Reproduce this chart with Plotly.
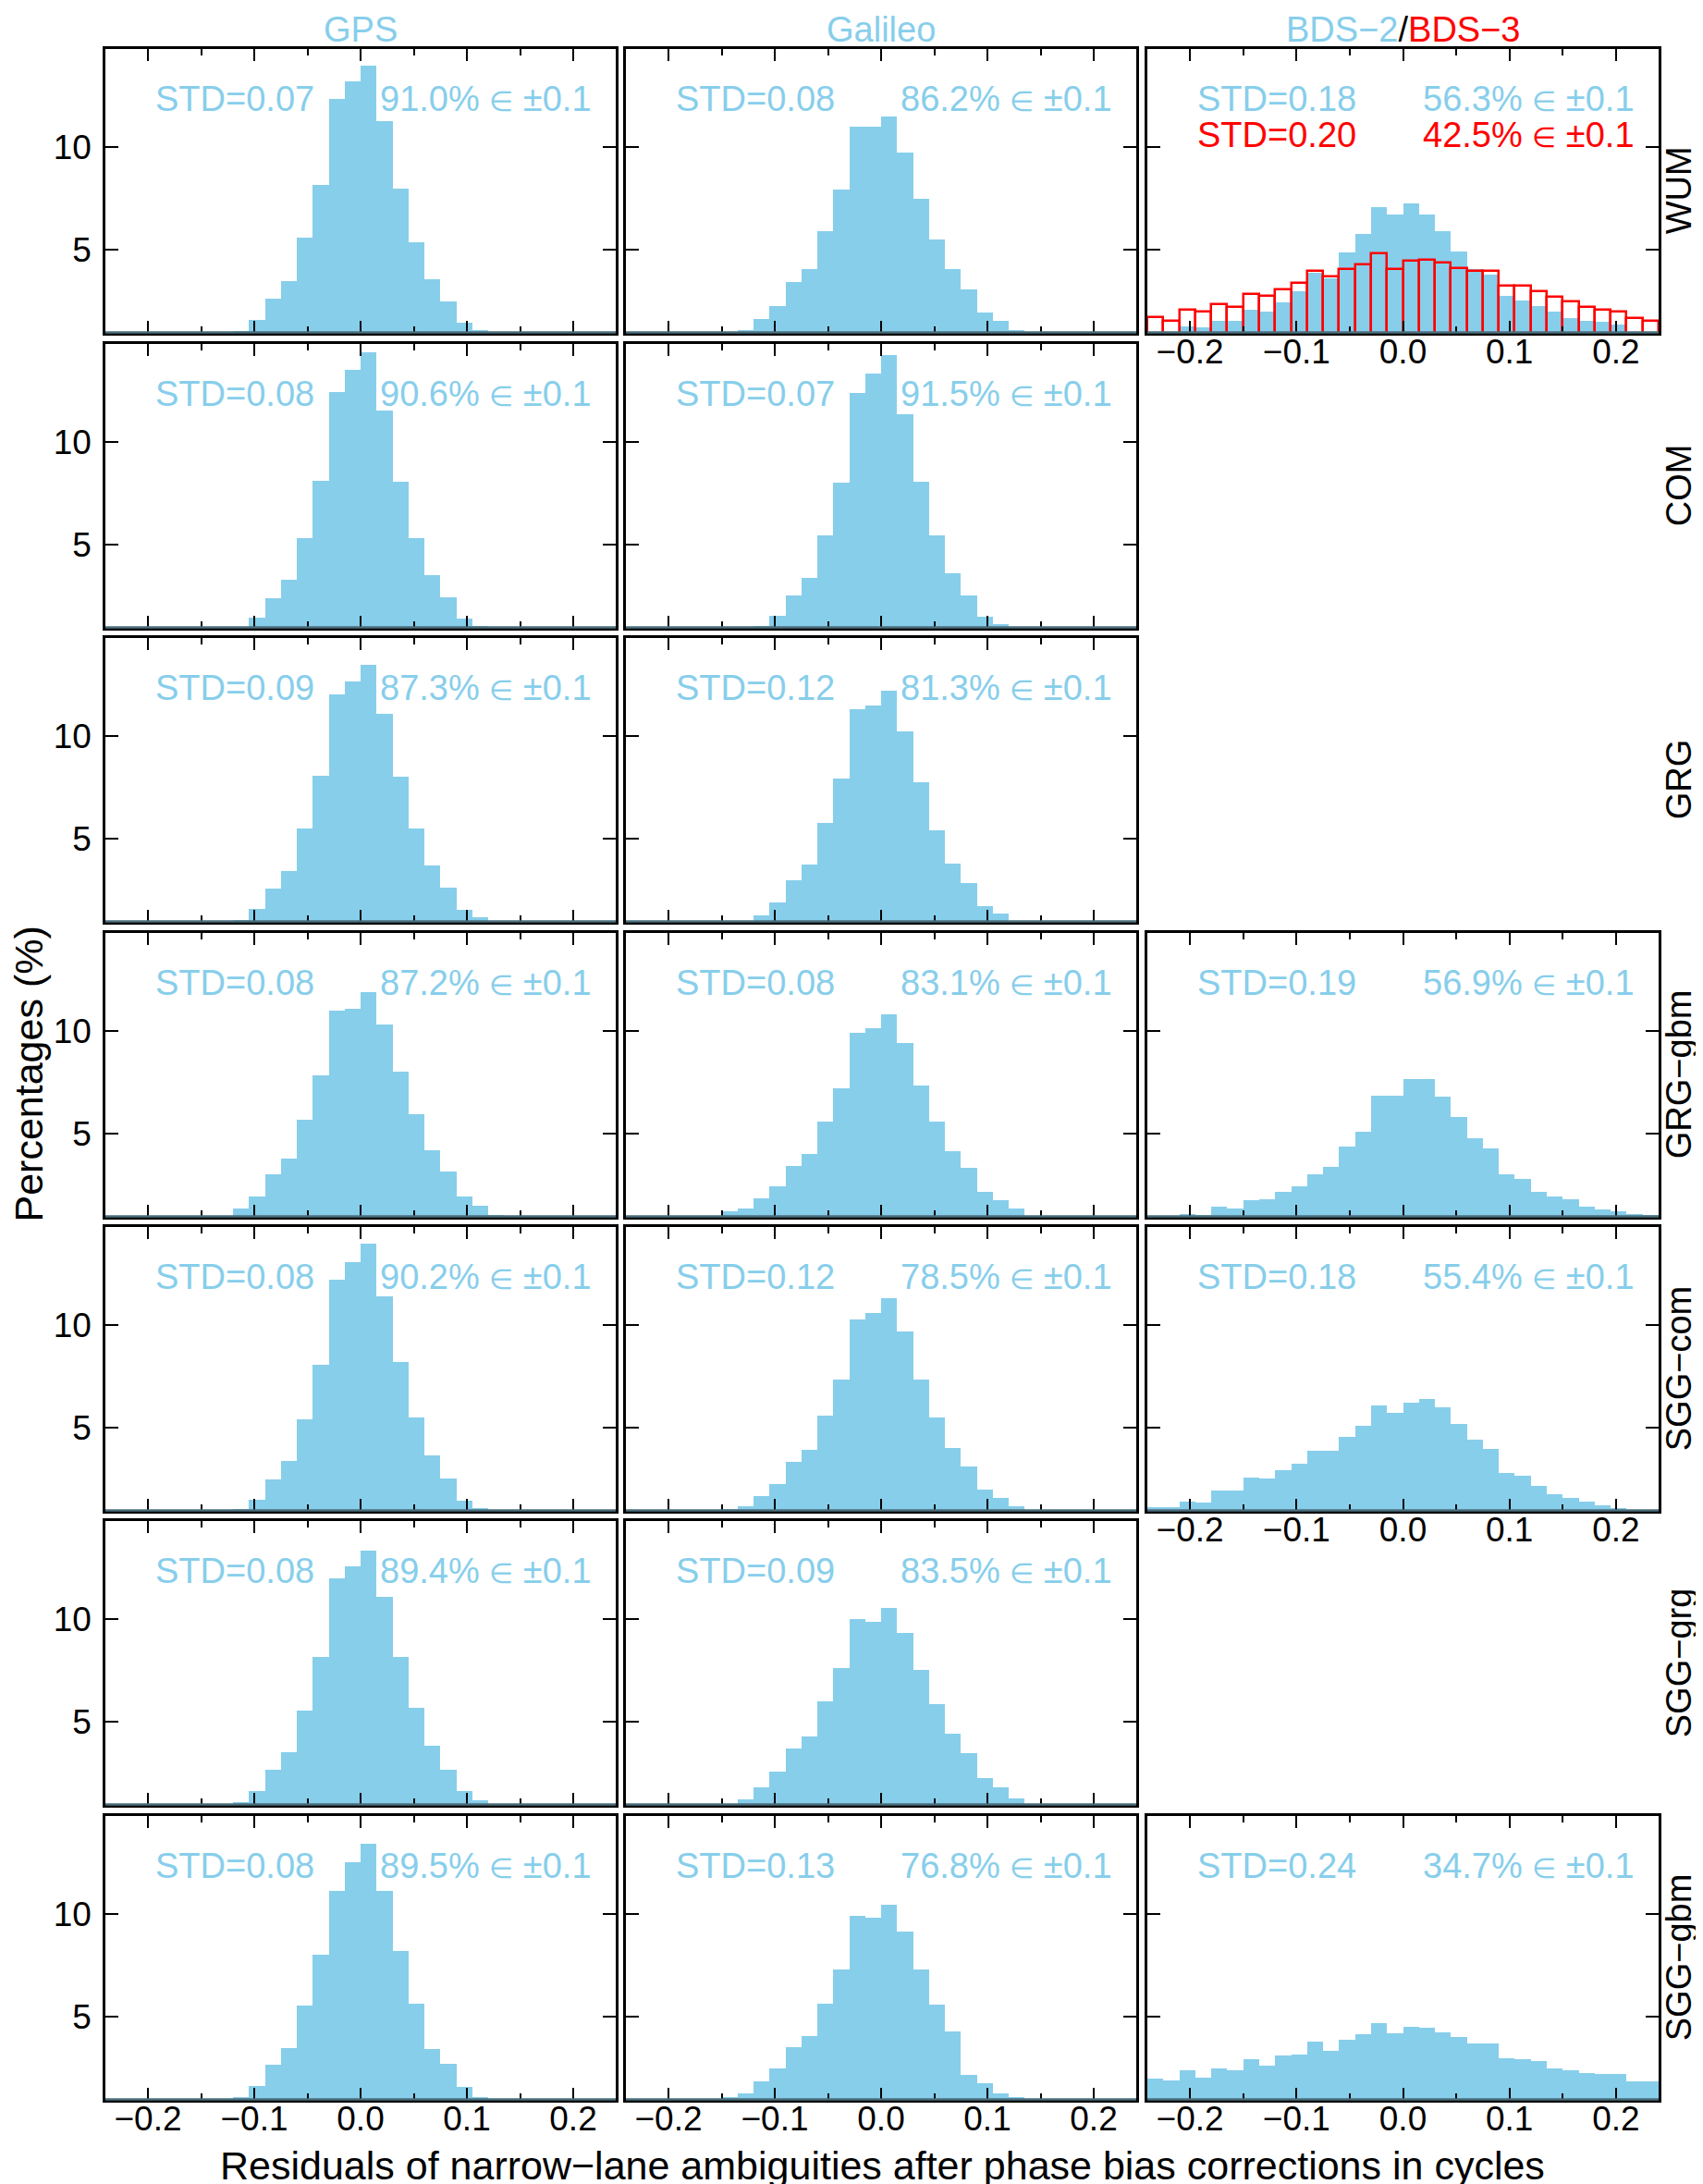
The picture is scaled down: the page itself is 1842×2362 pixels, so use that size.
import plotly.graph_objects as go

# ---------------- data ----------------
BIN_CENTERS = [-0.2325, -0.2175, -0.2025, -0.1875, -0.1725, -0.1575, -0.1425, -0.1275,
               -0.1125, -0.0975, -0.0825, -0.0675, -0.0525, -0.0375, -0.0225, -0.0075,
               0.0075, 0.0225, 0.0375, 0.0525, 0.0675, 0.0825, 0.0975, 0.1125,
               0.1275, 0.1425, 0.1575, 0.1725, 0.1875, 0.2025, 0.2175, 0.2325]

COLUMNS = ["GPS", "Galileo", "BDS"]
ROWS = ["WUM", "COM", "GRG", "GRG−gbm", "SGG−com", "SGG−grg", "SGG−gbm"]

GPS_WUM = [0, 0, 0, 0, 0, 0, 0, 0, 1.07, 1.6, 2.64, 3.49, 5.58, 8.16, 12.31, 13.16,
           13.91, 11.22, 7.97, 5.37, 3.57, 2.49, 1.49, 1.1, 0, 0, 0, 0, 0, 0, 0, 0]
GAL_WUM = [0, 0, 0, 0, 0, 0, 0, 1.12, 1.67, 2.27, 3.42, 4.06, 5.9, 7.94, 10.96, 10.96,
           11.45, 9.7, 7.46, 5.52, 4.06, 3.09, 1.97, 1.57, 1.12, 0, 0, 0, 0, 0, 0, 0]
BDS2_WUM = [0, 0, 1.28, 1.24, 1.54, 1.58, 2.09, 2.03, 2.46, 3.0, 3.9, 3.63, 4.87, 5.79, 7.06, 6.69,
            7.25, 6.73, 5.9, 4.93, 4.07, 3.81, 2.78, 2.55, 2.28, 2.01, 1.69, 1.54, 1.51, 1.36, 0, 0]
BDS3_WUM = [1.73, 1.57, 2.09, 2.01, 2.36, 2.25, 2.85, 2.78, 3.1, 3.4, 3.97, 3.73, 4.07, 4.3, 4.82, 4.07,
            4.45, 4.52, 4.37, 4.1, 4.0, 3.97, 3.25, 3.25, 3.0, 2.73, 2.48, 2.25, 2.1, 2.03, 1.69, 1.57]

GPS_COM = [0, 0, 0, 0, 0, 0, 0, 0, 0, 1.47, 2.43, 3.3, 5.34, 8.1, 12.41, 13.48,
           14.32, 11.52, 8.07, 5.34, 3.51, 2.47, 1.43, 1.07, 0, 0, 0, 0, 0, 0, 0, 0]
GAL_COM = [0, 0, 0, 0, 0, 0, 0, 0, 1.07, 1.58, 2.54, 3.38, 5.45, 8.02, 12.34, 13.3,
           14.2, 11.34, 8.07, 5.45, 3.63, 2.54, 1.52, 1.15, 0, 0, 0, 0, 0, 0, 0, 0]

GPS_GRG = [0, 0, 0, 0, 0, 0, 0, 0, 1.06, 1.61, 2.57, 3.43, 5.52, 8.06, 11.99, 12.61,
           13.45, 11.07, 8.03, 5.52, 3.7, 2.63, 1.57, 1.19, 0, 0, 0, 0, 0, 0, 0, 0]
GAL_GRG = [0, 0, 0, 0, 0, 0, 0, 0, 1.31, 1.91, 3.0, 3.75, 5.75, 7.93, 11.27, 11.46,
           12.18, 10.19, 7.73, 5.42, 3.82, 2.88, 1.73, 1.36, 0, 0, 0, 0, 0, 0, 0, 0]

GPS_GRGGBM = [0, 0, 0, 0, 0, 0, 0, 0, 1.37, 1.97, 3.04, 3.79, 5.69, 7.82, 10.96, 11.07,
              11.85, 10.28, 8.0, 5.93, 4.21, 3.16, 1.97, 1.51, 1.07, 0, 0, 0, 0, 0, 0, 0]
GAL_GRGGBM = [0, 0, 0, 0, 0, 0, 1.25, 1.37, 1.88, 2.45, 3.46, 4.01, 5.58, 7.22, 9.91, 10.13,
              10.78, 9.39, 7.34, 5.58, 4.16, 3.37, 2.19, 1.78, 1.37, 0, 0, 0, 0, 0, 0, 0]
BDS_GRGGBM = [0, 0, 1.1, 1.08, 1.45, 1.38, 1.78, 1.82, 2.2, 2.45, 3.05, 3.38, 4.38, 5.11, 6.84, 6.84,
              7.64, 7.64, 6.78, 5.82, 4.78, 4.29, 3.05, 2.82, 2.2, 1.96, 1.82, 1.45, 1.33, 1.24, 1.11, 1.05]

GPS_SGGCOM = [0, 0, 0, 0, 0, 0, 0, 0, 1.07, 1.52, 2.51, 3.41, 5.43, 8.07, 12.19, 13.05,
              13.94, 11.38, 8.18, 5.51, 3.68, 2.56, 1.47, 1.12, 0, 0, 0, 0, 0, 0, 0, 0]
GAL_SGGCOM = [0, 0, 0, 0, 0, 0, 1.07, 1.22, 1.7, 2.26, 3.35, 3.94, 5.57, 7.35, 10.25, 10.55,
              11.29, 9.67, 7.35, 5.51, 4.02, 3.11, 1.99, 1.62, 1.22, 0, 0, 0, 0, 0, 0, 0]
BDS_SGGCOM = [1.17, 1.17, 1.43, 1.38, 1.96, 1.96, 2.6, 2.56, 2.97, 3.28, 3.9, 3.88, 4.55, 5.08, 6.1, 5.73,
              6.24, 6.42, 5.99, 5.19, 4.42, 4.0, 2.82, 2.68, 2.2, 1.78, 1.6, 1.41, 1.23, 1.11, 0, 0]

GPS_SGGGRG = [0, 0, 0, 0, 0, 0, 0, 0, 1.12, 1.67, 2.69, 3.51, 5.55, 8.16, 11.97, 12.52,
              13.31, 11.07, 8.16, 5.66, 3.84, 2.69, 1.63, 1.22, 0, 0, 0, 0, 0, 0, 0, 0]
GAL_SGGGRG = [0, 0, 0, 0, 0, 0, 1.04, 1.25, 1.85, 2.57, 3.72, 4.31, 6.0, 7.6, 9.99, 9.85,
              10.52, 9.33, 7.52, 5.85, 4.43, 3.49, 2.27, 1.82, 1.3, 0, 0, 0, 0, 0, 0, 0]

GPS_SGGGBM = [0, 0, 0, 0, 0, 0, 0, 0, 1.12, 1.64, 2.66, 3.5, 5.54, 8.03, 11.1, 12.5,
              13.4, 11.1, 8.2, 5.64, 3.43, 2.73, 1.61, 1.13, 0, 0, 0, 0, 0, 0, 0, 0]
GAL_SGGGBM = [0, 0, 0, 0, 0, 0, 1.09, 1.31, 1.88, 2.48, 3.55, 4.07, 5.64, 7.31, 9.9, 9.79,
              10.42, 9.15, 7.28, 5.6, 4.3, 2.2, 1.79, 1.31, 1.09, 0, 0, 0, 0, 0, 0, 0]
BDS_SGGGBM = [2.01, 1.91, 2.39, 2.06, 2.51, 2.39, 2.93, 2.63, 3.15, 3.18, 3.81, 3.36, 3.9, 4.15, 4.7, 4.22,
              4.52, 4.45, 4.25, 4.04, 3.73, 3.7, 3.0, 2.96, 2.84, 2.51, 2.43, 2.28, 2.21, 2.21, 1.87, 1.87]

# STD labels and percentage-within-±0.1 labels
GPS_STD = ["0.07", "0.08", "0.09", "0.08", "0.08", "0.08", "0.08"]
GPS_PCT = ["91.0", "90.6", "87.3", "87.2", "90.2", "89.4", "89.5"]
GAL_STD = ["0.08", "0.07", "0.12", "0.08", "0.12", "0.09", "0.13"]
GAL_PCT = ["86.2", "91.5", "81.3", "83.1", "78.5", "83.5", "76.8"]
BDS_STD = ["0.18", None, None, "0.19", "0.18", None, "0.24"]
BDS_PCT = ["56.3", None, None, "56.9", "55.4", None, "34.7"]
BDS3_STD_WUM = "0.20"
BDS3_PCT_WUM = "42.5"

GPS_DATA = [GPS_WUM, GPS_COM, GPS_GRG, GPS_GRGGBM, GPS_SGGCOM, GPS_SGGGRG, GPS_SGGGBM]
GAL_DATA = [GAL_WUM, GAL_COM, GAL_GRG, GAL_GRGGBM, GAL_SGGCOM, GAL_SGGGRG, GAL_SGGGBM]
BDS_DATA = [BDS2_WUM, None, None, BDS_GRGGBM, BDS_SGGCOM, None, BDS_SGGGBM]

# ---------------- styling / layout ----------------
W, H = 1842, 2362
BLUE = "#87CEEB"
RED = "#FF0000"
SLATE = "#4a6e7c"
FONT = "Liberation Sans, Arial, Helvetica, sans-serif"
COL_PX = [(106, 658), (669, 1221), (1233, 1786)]
ROW_TOP_PX = [45, 364, 682, 1001, 1319, 1637, 1956]
ROW_H_PX = 306.5
XR = [-0.24, 0.24]
YR = [1.0, 14.73]
TXT = 38
TICKF = 37
AXT = 43
ELEM = "<span style='font-size:30px'>∈</span>"


def px_x(p):
    return p / W


def px_y(p):
    return 1 - p / H


fig = go.Figure()
layout = dict(
    width=W, height=H, autosize=False,
    margin=dict(l=0, r=0, t=0, b=0),
    paper_bgcolor="white", plot_bgcolor="white",
    showlegend=False, barmode="overlay", bargap=0,
    font=dict(family=FONT, size=TICKF, color="black"),
)
annotations = []
shapes = []

k = 0
for r in range(7):
    for c in range(3):
        if c == 0:
            vals, std, pct = GPS_DATA[r], GPS_STD[r], GPS_PCT[r]
        elif c == 1:
            vals, std, pct = GAL_DATA[r], GAL_STD[r], GAL_PCT[r]
        else:
            vals, std, pct = BDS_DATA[r], BDS_STD[r], BDS_PCT[r]
        if vals is None:
            continue
        k += 1
        xa = "x" if k == 1 else f"x{k}"
        ya = "y" if k == 1 else f"y{k}"
        xk = "xaxis" if k == 1 else f"xaxis{k}"
        yk = "yaxis" if k == 1 else f"yaxis{k}"

        fig.add_trace(go.Bar(x=BIN_CENTERS, y=vals, width=0.015,
                             marker=dict(color=BLUE, line=dict(width=0)),
                             xaxis=xa, yaxis=ya, hoverinfo="skip"))
        if c == 2 and r == 0:
            fig.add_trace(go.Bar(x=BIN_CENTERS, y=BDS3_WUM, width=0.015,
                                 marker=dict(color="rgba(0,0,0,0)",
                                             line=dict(width=2.5, color=RED)),
                                 xaxis=xa, yaxis=ya, hoverinfo="skip"))

        x0, x1 = COL_PX[c]
        top = ROW_TOP_PX[r]
        bot = top + ROW_H_PX
        show_x = (r == 6) or (c == 2 and r in (0, 4))
        layout[xk] = dict(
            domain=[px_x(x0), px_x(x1)], anchor=ya, range=XR,
            tickmode="array", tickvals=[-0.2, -0.1, 0.0, 0.1, 0.2],
            ticktext=["−0.2", "−0.1", "0.0", "0.1", "0.2"],
            ticks="inside", ticklen=13, tickwidth=2, tickcolor="black",
            minor=dict(tickmode="array", tickvals=[-0.15, -0.05, 0.05, 0.15],
                       ticks="inside", ticklen=7, tickwidth=2, tickcolor="black"),
            showline=True, linecolor="black", linewidth=2.5, mirror="ticks",
            showgrid=False, zeroline=False, showticklabels=show_x,
            ticklabelstandoff=-14,
            tickfont=dict(family=FONT, size=TICKF, color="black"),
            fixedrange=True,
        )
        layout[yk] = dict(
            domain=[px_y(bot), px_y(top)], anchor=xa, range=YR,
            tickmode="array", tickvals=[5, 10],
            ticks="inside", ticklen=14, tickwidth=2, tickcolor="black",
            showline=True, linecolor="black", linewidth=2.5, mirror="ticks",
            showgrid=False, zeroline=False, showticklabels=(c == 0),
            ticklabelstandoff=5,
            tickfont=dict(family=FONT, size=TICKF, color="black"),
            fixedrange=True,
        )
        # slate-coloured baseline along the bottom of every panel
        shapes.append(dict(type="line", xref=f"{xa} domain", yref=f"{ya} domain",
                           x0=0, x1=1, y0=0, y1=0, line=dict(color=SLATE, width=2.5)))

        annotations.append(dict(x=-0.195, y=12.3, xref=xa, yref=ya,
                                text=f"STD={std}", showarrow=False,
                                xanchor="left", yanchor="middle",
                                font=dict(family=FONT, size=TXT, color=BLUE)))
        annotations.append(dict(x=0.219, y=12.3, xref=xa, yref=ya,
                                text=f"{pct}% {ELEM} ±0.1", showarrow=False,
                                xanchor="right", yanchor="middle",
                                font=dict(family=FONT, size=TXT, color=BLUE)))
        if c == 2 and r == 0:
            annotations.append(dict(x=-0.195, y=10.55, xref=xa, yref=ya,
                                    text=f"STD={BDS3_STD_WUM}", showarrow=False,
                                    xanchor="left", yanchor="middle",
                                    font=dict(family=FONT, size=TXT, color=RED)))
            annotations.append(dict(x=0.219, y=10.55, xref=xa, yref=ya,
                                    text=f"{BDS3_PCT_WUM}% {ELEM} ±0.1", showarrow=False,
                                    xanchor="right", yanchor="middle",
                                    font=dict(family=FONT, size=TXT, color=RED)))

# column titles
col_titles = [
    "GPS",
    "Galileo",
    "<span style='color:#87CEEB'>BDS−2</span><span style='color:black'>/</span>"
    "<span style='color:#FF0000'>BDS−3</span>",
]
for c, t in enumerate(col_titles):
    x0, x1 = COL_PX[c]
    annotations.append(dict(x=px_x((x0 + x1) / 2), y=px_y(24), xref="paper", yref="paper",
                            text=t, showarrow=False, xanchor="center", yanchor="middle",
                            font=dict(family=FONT, size=TXT, color=BLUE)))

# row labels on the right
for r, name in enumerate(ROWS):
    yc = ROW_TOP_PX[r] + ROW_H_PX / 2
    annotations.append(dict(x=px_x(1808), y=px_y(yc), xref="paper", yref="paper",
                            text=name, showarrow=False, textangle=-90,
                            xanchor="center", yanchor="middle",
                            font=dict(family=FONT, size=TXT, color="black")))

# global axis titles
annotations.append(dict(x=px_x((106 + 1786) / 2), y=px_y(2334), xref="paper", yref="paper",
                        text="Residuals of narrow−lane ambiguities after phase bias corrections in cycles",
                        showarrow=False, xanchor="center", yanchor="middle",
                        font=dict(family=FONT, size=AXT, color="black")))
annotations.append(dict(x=px_x(22), y=px_y((45 + 2262) / 2), xref="paper", yref="paper",
                        text="Percentages (%)", showarrow=False, textangle=-90,
                        xanchor="center", yanchor="middle",
                        font=dict(family=FONT, size=AXT, color="black")))

layout["annotations"] = annotations
layout["shapes"] = shapes
fig.update_layout(**layout)
fig.write_html("out.html")
